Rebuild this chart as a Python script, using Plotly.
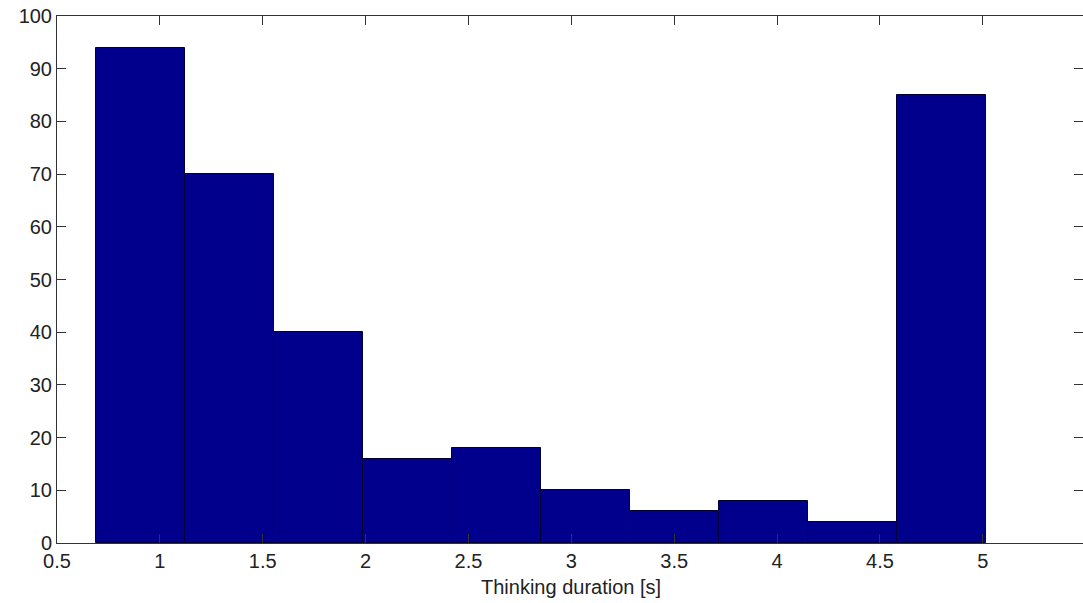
import plotly.graph_objects as go

# Histogram bins (centers, in seconds) and counts
bin_centers = [0.905, 1.338, 1.770, 2.203, 2.636, 3.068, 3.501, 3.934, 4.366, 4.799]
bin_width = 0.4326
counts = [94, 70, 40, 16, 18, 10, 6, 8, 4, 85]

x_ticks = [0.5, 1, 1.5, 2, 2.5, 3, 3.5, 4, 4.5, 5]
x_tick_labels = ["0.5", "1", "1.5", "2", "2.5", "3", "3.5", "4", "4.5", "5"]
y_ticks = [0, 10, 20, 30, 40, 50, 60, 70, 80, 90, 100]
x_title = "Thinking duration [s]"

fig = go.Figure()
fig.add_trace(go.Bar(
    x=bin_centers,
    y=counts,
    width=[bin_width] * len(bin_centers),
    marker=dict(color="rgb(0,0,140)", line=dict(color="rgb(0,0,50)", width=1)),
    showlegend=False,
))

tick_font = dict(family="Liberation Sans, Arial, sans-serif", size=20, color="#222222")

fig.add_annotation(
    text=x_title, x=3.0, xref="x", y=-0.083, yref="paper",
    xanchor="center", yanchor="middle", showarrow=False, font=tick_font,
)

fig.update_layout(
    width=1083,
    height=603,
    margin=dict(l=57, r=0, t=16, b=60),
    paper_bgcolor="white",
    plot_bgcolor="white",
    bargap=0,
    font=tick_font,
    xaxis=dict(
        range=[0.5, 5.487],
        tickmode="array",
        tickvals=x_ticks,
        ticktext=x_tick_labels,
        ticks="inside",
        ticklen=9,
        tickcolor="#333333",
        showline=True,
        linecolor="#333333",
        linewidth=1,
        mirror="ticks",
        showgrid=False,
        zeroline=False,
        tickfont=tick_font,
    ),
    yaxis=dict(
        range=[0, 100],
        tickmode="array",
        tickvals=y_ticks,
        ticks="inside",
        ticklen=9,
        tickcolor="#333333",
        showline=True,
        linecolor="#333333",
        linewidth=1,
        mirror="ticks",
        showgrid=False,
        zeroline=False,
        tickfont=tick_font,
    ),
)

fig.write_html("out.html")
